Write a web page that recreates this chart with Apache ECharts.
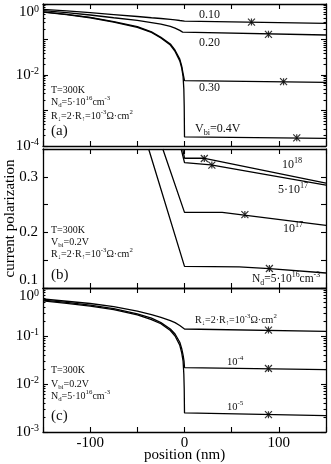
<!DOCTYPE html>
<html>
<head>
<meta charset="utf-8">
<script src="https://cdn.jsdelivr.net/npm/echarts@6/dist/echarts.min.js"></script>
<style>
  html, body { margin: 0; padding: 0; background: #fff; }
  #chart { width: 331px; height: 464px; }
</style>
</head>
<body>
<div id="chart"></div>
<script>
(function() {
  var FONT = '"Liberation Serif", "Times New Roman", serif';

  // --- tick labels ---
  var xTicks = [-100, 0, 100];
  var logTicksA = [1e-4, 1e-2, 1];
  var logTicksC = [1e-3, 1e-2, 1e-1, 1];
  var linTicksB = [0.1, 0.2, 0.3];

  // --- panel (a): V_bi = 0.10 / 0.20 / 0.30 / 0.4 V ---
  var aX010 = [-150, -125, -100, -75, -50, -35, -25, -15, -10, -5, 0, 150];
  var aY010 = [0.71, 0.64, 0.57, 0.505, 0.445, 0.41, 0.39, 0.37, 0.357, 0.343, 0.33, 0.286];
  var aX020 = [-150, -125, -100, -75, -50, -35, -25, -15, -10, -5, -2, 0, 150];
  var aY020 = [0.65, 0.57, 0.49, 0.41, 0.345, 0.30, 0.27, 0.235, 0.21, 0.18, 0.162, 0.149, 0.134];
  var aX030 = [-150, -125, -100, -75, -50, -35, -25, -15, -10, -5, -3, -1.5, 0, 150];
  var aY030 = [0.6, 0.51, 0.42, 0.32, 0.23, 0.165, 0.115, 0.075, 0.05, 0.028, 0.018, 0.011, 0.0069, 0.0062];
  var aX040 = [-150, -125, -100, -75, -50, -35, -25, -15, -10, -5, -3, -1.5, -0.7, -0.3, 0, 150];
  var aY040 = [0.59, 0.5, 0.41, 0.31, 0.22, 0.158, 0.11, 0.07, 0.046, 0.025, 0.016, 0.009, 0.004, 0.0013, 0.00018, 0.000165];
  var aMarkX = [71, 89, 105, 119];
  var aMarkY = [0.31, 0.14, 0.0065, 0.00017];

  // --- panel (b): N_d = 5e16 / 1e17 / 5e17 / 1e18 ---
  var bX5e16 = [-38, 0, 58, 90, 150];
  var bY5e16 = [0.35, 0.139, 0.138, 0.135, 0.127];
  var bX1e17 = [-23, 0, 40, 150];
  var bY1e17 = [0.35, 0.236, 0.236, 0.2125];
  var bX5e17 = [-3.5, 0, 28, 150];
  var bY5e17 = [0.35, 0.3255, 0.3214, 0.285];
  var bX1e18 = [-1.8, 0, 20, 150];
  var bY1e18 = [0.35, 0.3334, 0.3334, 0.2887];
  var bMarkX = [21, 29, 64, 90];
  var bMarkY = [0.333, 0.321, 0.232, 0.135];

  // --- panel (c): R = 1e-3 / 1e-4 / 1e-5 ---
  var cX1e3 = [-150, -125, -100, -75, -50, -35, -25, -15, -10, -5, 0, 150];
  var cY1e3 = [0.59, 0.53, 0.475, 0.41, 0.33, 0.28, 0.245, 0.21, 0.19, 0.165, 0.14, 0.125];
  var cX1e4 = [-150, -125, -100, -75, -50, -35, -25, -15, -10, -5, -3, -1.5, -0.5, 0, 150];
  var cY1e4 = [0.56, 0.5, 0.44, 0.37, 0.29, 0.235, 0.19, 0.14, 0.11, 0.074, 0.055, 0.04, 0.03, 0.022, 0.020];
  var cX1e5 = [-150, -125, -100, -75, -50, -35, -25, -15, -10, -5, -3, -1.5, -0.7, -0.3, 0, 150];
  var cY1e5 = [0.54, 0.48, 0.42, 0.355, 0.275, 0.22, 0.18, 0.13, 0.1, 0.064, 0.045, 0.03, 0.016, 0.008, 0.0025, 0.0022];
  var cMarkX = [89, 89, 89];
  var cMarkY = [0.133, 0.021, 0.0023];

  function pairs(xs, ys) {
    return xs.map(function(x, i) { return [x, ys[i]]; });
  }

  function minorLog(lo, hi) {
    var out = [];
    for (var e = lo; e < hi; e++) {
      for (var k = 2; k <= 9; k++) out.push(k * Math.pow(10, e));
    }
    return out;
  }

  function decades(lo, hi) {
    var out = [];
    for (var e = lo; e <= hi; e++) out.push(Math.pow(10, e));
    return out;
  }

  var lineStyle = { color: '#000', width: 1.3 };
  var tickStyle = { color: '#000', width: 1.1 };

  function xAx(gi, pos, showLabels) {
    return {
      type: 'value', gridIndex: gi, position: pos, min: -150, max: 150, interval: 50,
      axisLine: { show: true, onZero: false, lineStyle: lineStyle },
      axisTick: { inside: true, length: 5, lineStyle: tickStyle },
      axisLabel: showLabels ? {
        customValues: xTicks, color: '#000', fontFamily: FONT, fontSize: 15, margin: 4,
        formatter: function(v) { return String(v); }
      } : { show: false },
      splitLine: { show: false },
      name: showLabels ? 'position (nm)' : '',
      nameLocation: 'middle', nameGap: 16, nameMoveOverlap: false,
      nameTextStyle: { color: '#000', fontFamily: FONT, fontSize: 15 }
    };
  }

  var supRich = {
    sup: { fontSize: 10, lineHeight: 10, verticalAlign: 'top', fontFamily: FONT, color: '#000' }
  };

  function logFmt(v) {
    var e = Math.round(Math.log10(v));
    return '10{sup|' + e + '}';
  }

  function logAx(gi, pos, min, max, labelVals, majors, minors, isMinor) {
    return {
      type: 'log', logBase: 10, gridIndex: gi, position: pos, min: min, max: max,
      axisLine: { show: !isMinor, onZero: false, lineStyle: lineStyle },
      axisTick: { inside: true, length: isMinor ? 2.5 : 5, lineStyle: tickStyle,
        customValues: isMinor ? minors : majors },
      axisLabel: labelVals ? {
        customValues: labelVals, formatter: logFmt, color: '#000', fontFamily: FONT,
        fontSize: 15, lineHeight: 17, margin: 4, rich: supRich,
        verticalAlignMaxLabel: 'top'
      } : { show: false },
      splitLine: { show: false }
    };
  }

  function linAx(gi, pos, showLabels) {
    return {
      type: 'value', gridIndex: gi, position: pos, min: 0.1, max: 0.35, interval: 0.05,
      axisLine: { show: true, onZero: false, lineStyle: lineStyle },
      axisTick: { inside: true, length: 5, lineStyle: tickStyle },
      axisLabel: showLabels ? {
        customValues: linTicksB, color: '#000', fontFamily: FONT, fontSize: 15, margin: 5,
        formatter: function(v) { return v.toFixed(1); },
        verticalAlignMinLabel: 'bottom'
      } : { show: false },
      splitLine: { show: false },
      name: showLabels ? 'current polarization' : '',
      nameLocation: 'middle', nameGap: 25, nameMoveOverlap: false,
      nameTextStyle: { color: '#000', fontFamily: FONT, fontSize: 15 }
    };
  }

  var majA = decades(-4, 0), minA = minorLog(-4, 0);
  var majC = decades(-3, 0), minC = minorLog(-3, 0);

  function line(data, xi, yi) {
    return {
      type: 'line', xAxisIndex: xi, yAxisIndex: yi, data: data, showSymbol: false,
      lineStyle: lineStyle, silent: true, clip: true
    };
  }

  function marks(xs, ys, xi, yi) {
    return {
      type: 'scatter', xAxisIndex: xi, yAxisIndex: yi, data: pairs(xs, ys),
      symbol: 'path://M0,0L10,10M10,0L0,10M5,0L5,10', symbolSize: 7,
      itemStyle: { color: 'rgba(0,0,0,0)', borderColor: '#000', borderWidth: 1.2 },
      silent: true
    };
  }

  // annotation texts (pixel positions)
  var PARAM = 10, CURV = 12, TAG = 15;
  var texts = [
    { x: 199, y: 15, s: '0.10', f: CURV },
    { x: 199, y: 43, s: '0.20', f: CURV },
    { x: 199, y: 88, s: '0.30', f: CURV },
    { x: 195, y: 129, s: 'V{sub|bi}=0.4V', f: CURV },
    { x: 51, y: 90, s: 'T=300K', f: PARAM },
    { x: 51, y: 102, s: 'N{sub|d}=5·10{sup|16}cm{sup|-3}', f: PARAM },
    { x: 51, y: 116, s: 'R{sub|↓}=2·R{sub|↑}=10{sup|-3}Ω·cm{sup|2}', f: PARAM },
    { x: 51, y: 131, s: '(a)', f: TAG },

    { x: 282, y: 165, s: '10{sup|18}', f: CURV },
    { x: 278, y: 190, s: '5·10{sup|17}', f: CURV },
    { x: 283, y: 229, s: '10{sup|17}', f: CURV },
    { x: 252, y: 279, s: 'N{sub|d}=5·10{sup|16}cm{sup|-3}', f: CURV - 0.5 },
    { x: 51, y: 230, s: 'T=300K', f: PARAM },
    { x: 51, y: 242, s: 'V{sub|bi}=0.2V', f: PARAM },
    { x: 51, y: 254, s: 'R{sub|↓}=2·R{sub|↑}=10{sup|-3}Ω·cm{sup|2}', f: PARAM },
    { x: 51, y: 275, s: '(b)', f: TAG },

    { x: 195, y: 320, s: 'R{sub|↓}=2·R{sub|↑}=10{sup|-3}Ω·cm{sup|2}', f: PARAM },
    { x: 227, y: 362, s: '10{sup|-4}', f: PARAM + 0.5 },
    { x: 227, y: 407, s: '10{sup|-5}', f: PARAM + 0.5 },
    { x: 51, y: 370, s: 'T=300K', f: PARAM },
    { x: 51, y: 384, s: 'V{sub|bi}=0.2V', f: PARAM },
    { x: 51, y: 396, s: 'N{sub|d}=5·10{sup|16}cm{sup|-3}', f: PARAM },
    { x: 51, y: 416, s: '(c)', f: TAG }
  ];

  function textEl(t) {
    var small = Math.round(t.f * 0.68 * 10) / 10;
    return {
      type: 'text', x: t.x, y: t.y, silent: true,
      style: {
        text: t.s, fill: '#111', fontFamily: FONT, fontSize: t.f,
        font: t.f + 'px ' + FONT, lineHeight: t.f + 4,
        align: 'left', verticalAlign: 'middle',
        rich: {
          sup: { fontSize: small, fontFamily: FONT, font: small + 'px ' + FONT, lineHeight: small, verticalAlign: 'top', fill: '#111' },
          sub: { fontSize: small, fontFamily: FONT, font: small + 'px ' + FONT, lineHeight: small, verticalAlign: 'bottom', fill: '#111' }
        }
      }
    };
  }

  var chart = echarts.init(document.getElementById('chart'), null, { renderer: 'canvas' });
  chart.setOption({
    animation: false,
    backgroundColor: '#fff',
    grid: [
      { left: 43, right: 5, top: 4, height: 142, outerBoundsMode: 'none' },
      { left: 43, right: 5, top: 149, height: 139, outerBoundsMode: 'none' },
      { left: 43, right: 5, top: 288, height: 144, outerBoundsMode: 'none' }
    ],
    xAxis: [
      xAx(0, 'bottom', false), xAx(0, 'top', false),
      xAx(1, 'bottom', false), xAx(1, 'top', false),
      xAx(2, 'bottom', true), xAx(2, 'top', false)
    ],
    yAxis: [
      logAx(0, 'left', 1e-4, 1, logTicksA, majA, minA, false),
      logAx(0, 'right', 1e-4, 1, null, majA, minA, false),
      logAx(0, 'left', 1e-4, 1, null, majA, minA, true),
      logAx(0, 'right', 1e-4, 1, null, majA, minA, true),
      linAx(1, 'left', true),
      linAx(1, 'right', false),
      logAx(2, 'left', 1e-3, 1, logTicksC, majC, minC, false),
      logAx(2, 'right', 1e-3, 1, null, majC, minC, false),
      logAx(2, 'left', 1e-3, 1, null, majC, minC, true),
      logAx(2, 'right', 1e-3, 1, null, majC, minC, true)
    ],
    series: [
      line(pairs(aX010, aY010), 0, 0),
      line(pairs(aX020, aY020), 0, 0),
      line(pairs(aX030, aY030), 0, 0),
      line(pairs(aX040, aY040), 0, 0),
      marks(aMarkX, aMarkY, 0, 0),

      line(pairs(bX5e16, bY5e16), 2, 4),
      line(pairs(bX1e17, bY1e17), 2, 4),
      line(pairs(bX5e17, bY5e17), 2, 4),
      line(pairs(bX1e18, bY1e18), 2, 4),
      marks(bMarkX, bMarkY, 2, 4),

      line(pairs(cX1e3, cY1e3), 4, 6),
      line(pairs(cX1e4, cY1e4), 4, 6),
      line(pairs(cX1e5, cY1e5), 4, 6),
      marks(cMarkX, cMarkY, 4, 6)
    ],
    graphic: { elements: texts.map(textEl) }
  });
  window.addEventListener('resize', function() { chart.resize(); });
})();
</script>
</body>
</html>
